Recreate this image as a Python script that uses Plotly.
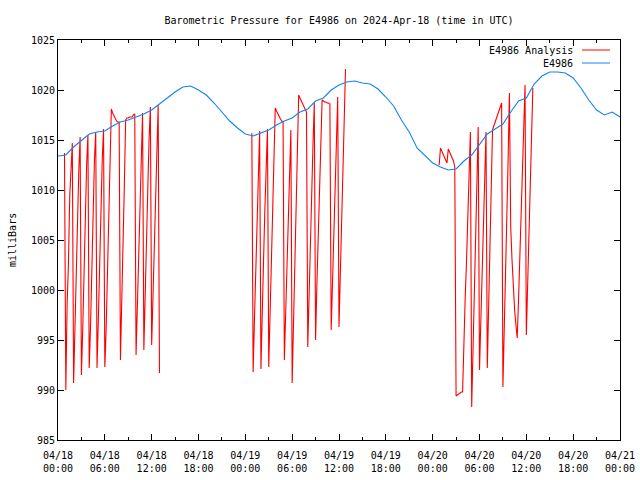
import pandas as pd
import plotly.graph_objects as go

# ---------------- data ----------------
# E4986 observed pressure, hourly from 2024-04-18 00:00 UTC
blue_start = "2024-04-18 00:00"
blue_vals = [
    1013.4, 1013.5, 1014.3, 1015.0, 1015.6, 1015.8, 1015.9, 1016.4, 1016.8, 1017.0,
    1017.3, 1017.6, 1018.0, 1018.6, 1019.2, 1019.8, 1020.3, 1020.4, 1020.0, 1019.5,
    1018.7, 1017.8, 1016.9, 1016.2, 1015.6, 1015.4, 1015.7, 1016.0, 1016.5, 1016.9,
    1017.2, 1017.8, 1018.1, 1018.9, 1019.2, 1020.0, 1020.5, 1020.8, 1020.9, 1020.7,
    1020.6, 1020.1, 1019.3, 1018.4, 1017.0, 1015.8, 1014.2, 1013.4, 1012.7, 1012.3,
    1012.0, 1012.1, 1012.9, 1013.5, 1014.6, 1015.6, 1016.1, 1016.6, 1017.8, 1018.9,
    1019.2, 1020.6, 1021.4, 1021.8, 1021.8, 1021.7, 1021.2, 1020.2, 1019.0, 1018.0,
    1017.5, 1017.8, 1017.3,
]

# E4986 Analysis, 10-minute samples, three separate segments
seg1_start = "2024-04-18 00:50"
seg1_vals = [
    1013.7,
    990.0, 998.5, 1002.5, 1009.3, 1012.8, 1014.7,
    990.7, 996.5, 1001.5, 1007.5, 1012.0, 1015.3,
    991.5, 996.0, 1002.0, 1007.0, 1012.5, 1015.5,
    992.2, 996.3, 1002.5, 1008.5, 1013.0, 1015.8,
    992.2, 997.0, 1003.0, 1008.5, 1013.0, 1016.1,
    992.3, 996.0, 1001.8, 1005.0, 1012.0, 1018.1,
    1017.7, 1017.4, 1017.1, 1016.9, 1016.8, 1016.8,
    993.0, 998.0, 1005.0, 1010.5, 1017.0, 1017.2,
    1017.2, 1017.3, 1017.3, 1017.3, 1017.5, 1017.6,
    993.5, 998.0, 1004.0, 1009.5, 1014.0, 1017.7,
    994.0, 998.5, 1004.5, 1010.0, 1015.0, 1018.3,
    994.5, 999.5, 1005.5, 1011.0, 1015.5, 1018.5,
    991.7,
]
seg2_start = "2024-04-19 00:50"
seg2_vals = [
    1015.7,
    991.8, 997.0, 1002.0, 1007.5, 1012.0, 1015.9,
    992.1, 996.5, 1003.0, 1008.0, 1012.5, 1016.1,
    992.3, 997.5, 1003.5, 1009.0, 1013.5, 1018.2,
    1017.9, 1017.6, 1017.3, 1017.1, 1016.9, 1016.8,
    993.0, 997.5, 1003.5, 1008.5, 1013.0, 1016.0,
    990.7, 996.0, 1002.0, 1008.0, 1013.5, 1019.5,
    1019.2, 1018.9, 1018.6, 1018.3, 1018.0, 1017.8,
    994.3, 1000.0, 1005.0, 1010.0, 1014.5, 1018.7,
    995.0, 1000.5, 1005.5, 1010.5, 1015.0, 1019.0,
    1018.9, 1018.8, 1018.8, 1018.7, 1018.7, 1018.6,
    996.0, 1000.5, 1005.5, 1010.5, 1015.0, 1019.3,
    996.3, 1001.5, 1007.0, 1012.0, 1017.0, 1022.1,
]
seg3_start = "2024-04-20 00:50"
seg3_vals = [
    1012.5,
    1014.2, 1013.9, 1013.6, 1013.3, 1013.0, 1012.7,
    1014.1, 1013.8, 1013.5, 1013.2, 1012.9, 1012.3,
    989.4, 989.5, 989.6, 989.7, 989.8, 989.8,
    995.3, 999.2, 1002.8, 1006.7, 1010.3, 1015.8,
    988.3, 994.0, 999.5, 1004.5, 1010.0, 1016.3,
    992.0, 997.0, 1002.5, 1007.0, 1012.0, 1015.8,
    992.2, 998.0, 1005.0, 1011.0, 1016.0, 1016.4,
    1016.8, 1017.2, 1017.6, 1018.0, 1018.4, 1018.7,
    990.3, 995.5, 1001.0, 1007.0, 1013.0, 1019.7,
    1006.3, 1003.0, 1000.0, 998.0, 996.5, 995.2,
    999.0, 1003.5, 1008.0, 1012.5, 1016.5, 1020.5,
    995.5, 1000.0, 1005.0, 1010.0, 1015.0, 1020.2,
]

x_tick_labels = ["04/18<br>00:00", "04/18<br>06:00", "04/18<br>12:00", "04/18<br>18:00",
                 "04/19<br>00:00", "04/19<br>06:00", "04/19<br>12:00", "04/19<br>18:00",
                 "04/20<br>00:00", "04/20<br>06:00", "04/20<br>12:00", "04/20<br>18:00",
                 "04/21<br>00:00"]
y_ticks = [985, 990, 995, 1000, 1005, 1010, 1015, 1020, 1025]

# ---------------- build ----------------
blue_x = pd.date_range(blue_start, periods=len(blue_vals), freq="1h")

red_x, red_y = [], []
for start, vals in [(seg1_start, seg1_vals), (seg2_start, seg2_vals), (seg3_start, seg3_vals)]:
    xs = pd.date_range(start, periods=len(vals), freq="10min")
    red_x.extend(list(xs))
    red_y.extend(vals)
    red_x.append(None)
    red_y.append(None)

tickvals = pd.date_range("2024-04-18 00:00", periods=len(x_tick_labels), freq="6h")

RED = "#ff0000"
BLUE = "#1283f0"
FONT = dict(family="DejaVu Sans Mono, Liberation Mono, monospace", size=10, color="black")

fig = go.Figure()
fig.add_trace(go.Scatter(x=red_x, y=red_y, mode="lines", name="E4986 Analysis",
                         line=dict(color=RED, width=1.1), connectgaps=False))
fig.add_trace(go.Scatter(x=blue_x, y=blue_vals, mode="lines", name="E4986",
                         line=dict(color=BLUE, width=1.1)))

fig.update_layout(
    width=640, height=480,
    margin=dict(l=58, r=20, t=40, b=40),
    paper_bgcolor="white", plot_bgcolor="white",
    font=FONT,
    showlegend=False,
    title=dict(text="Barometric Pressure for E4986 on 2024-Apr-18 (time in UTC)",
               x=(58 + 281) / 640, xanchor="center", y=1 - 20 / 480, yanchor="middle",
               font=FONT),
)
fig.update_xaxes(
    type="date",
    range=["2024-04-18 00:00", "2024-04-21 00:00"],
    tickmode="array", tickvals=list(tickvals), ticktext=x_tick_labels,
    ticks="inside", ticklen=6, tickcolor="black", ticklabelstandoff=6,
    minor=dict(dtick=3 * 3600 * 1000, tick0="2024-04-18", ticks="inside", ticklen=3,
               tickcolor="black", showgrid=False),
    showline=True, linecolor="black", linewidth=1, mirror="allticks",
    showgrid=False, zeroline=False, tickfont=FONT, automargin=False,
)
fig.update_yaxes(
    range=[985, 1025], tickmode="array", tickvals=y_ticks,
    ticktext=[str(v) for v in y_ticks],
    ticks="inside", ticklen=6, tickcolor="black",
    showline=True, linecolor="black", linewidth=1, mirror="allticks",
    showgrid=False, zeroline=False, tickfont=FONT, automargin=False,
)

# y axis title
fig.add_annotation(text="milliBars", xref="paper", yref="paper",
                   x=(12 - 58) / 562, y=0.5, textangle=-90, showarrow=False,
                   xanchor="center", yanchor="middle", font=FONT)

# gnuplot-style key (text right, sample line after it)
for i, (label, color) in enumerate([("E4986 Analysis", RED), ("E4986", BLUE)]):
    ypx = 50 + 13 * i
    yp = (440 - ypx) / 400
    fig.add_annotation(text=label, xref="paper", yref="paper", x=(575 - 58) / 562, y=yp,
                       xanchor="right", yanchor="middle", showarrow=False, font=FONT)
    fig.add_shape(type="line", xref="paper", yref="paper",
                  x0=(582 - 58) / 562, x1=(610 - 58) / 562, y0=yp, y1=yp,
                  line=dict(color=color, width=1))

fig.write_html("out.html", config={"displayModeBar": False},
               post_script="document.body.style.margin='0';document.body.style.overflow='hidden';")
